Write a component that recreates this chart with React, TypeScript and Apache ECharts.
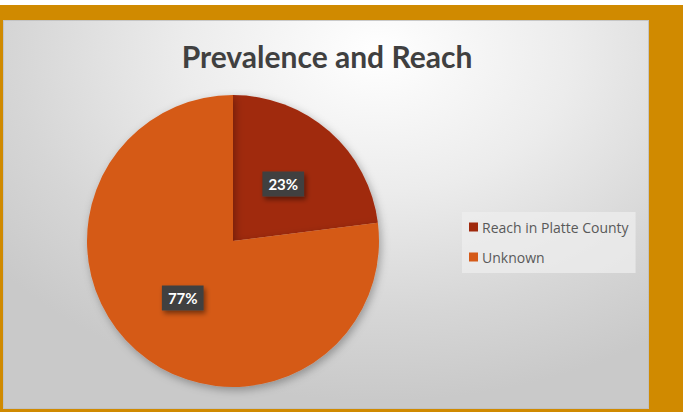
import React, { useEffect, useRef } from "react";
import * as echarts from "echarts";

const categories = ["Reach in Platte County", "Unknown"];
const values = [23, 77];
const colors = ["#A0290C", "#D55A18"];
const titleText = "Prevalence and Reach";

export default function App() {
  const ref = useRef<HTMLDivElement>(null);
  useEffect(() => {
    if (!ref.current) return;
    const chart = echarts.init(ref.current, undefined, { renderer: "svg" });
    chart.setOption({
      animation: false,
      title: {
        text: titleText,
        left: 322,
        textAlign: "center",
        top: 36,
        textStyle: {
          fontFamily: "Lato",
          fontWeight: "bold",
          fontSize: 30,
          color: "#404040",
        },
      },
      legend: {
        orient: "vertical",
        left: 462,
        top: 212,
        padding: [8, 7, 9, 7],
        itemGap: 16,
        itemWidth: 9,
        itemHeight: 9,
        icon: "rect",
        backgroundColor: "rgba(238,238,238,0.75)",
        selectedMode: false,
        data: categories,
        textStyle: {
          fontFamily: "Open Sans",
          fontSize: 14,
          color: "#595959",
          padding: [0, 0, 0, -1],
        },
      },
      series: [
        {
          type: "pie",
          center: [233, 241],
          radius: 146,
          startAngle: 90,
          clockwise: true,
          silent: true,
          emphasis: { disabled: true },
          itemStyle: {
            shadowBlur: 8,
            shadowOffsetX: 2,
            shadowOffsetY: 3,
            shadowColor: "rgba(0,0,0,0.3)",
          },
          label: {
            show: true,
            position: "inside",
            formatter: (p: any) => `${p.value}%`,
            fontFamily: "Lato",
            fontWeight: "bold",
            fontSize: 15,
            color: "#ffffff",
            backgroundColor: "#404040",
            padding: [5, 6, 5, 6],
            shadowBlur: 5,
            shadowOffsetX: 2,
            shadowOffsetY: 3,
            shadowColor: "rgba(0,0,0,0.45)",
          },
          labelLine: { show: false },
          data: categories.map((c, i) => ({
            name: c,
            value: values[i],
            itemStyle: { color: colors[i] },
          })),
        },
      ],
    });
    return () => chart.dispose();
  }, []);

  return (
    <div
      style={{
        position: "fixed",
        left: 0,
        top: 0,
        width: 683,
        height: 412,
        background: "#ffffff",
        overflow: "hidden",
      }}
    >
      <div
        style={{
          position: "absolute",
          left: 0,
          top: 5,
          width: 683,
          height: 407,
          background: "#D08A00",
        }}
      />
      <div
        style={{
          position: "absolute",
          left: 3,
          top: 20,
          width: 646,
          height: 389,
          background:
            "radial-gradient(ellipse 75% 90% at 58% 8%, #ffffff 0%, #ececec 40%, #d6d6d6 75%, #c9c9c9 100%)",
          boxShadow: "inset 0 0 0 1px rgba(190,190,190,0.8)",
        }}
      />
      <div ref={ref} style={{ position: "absolute", left: 0, top: 0, width: 683, height: 412 }} />
    </div>
  );
}
